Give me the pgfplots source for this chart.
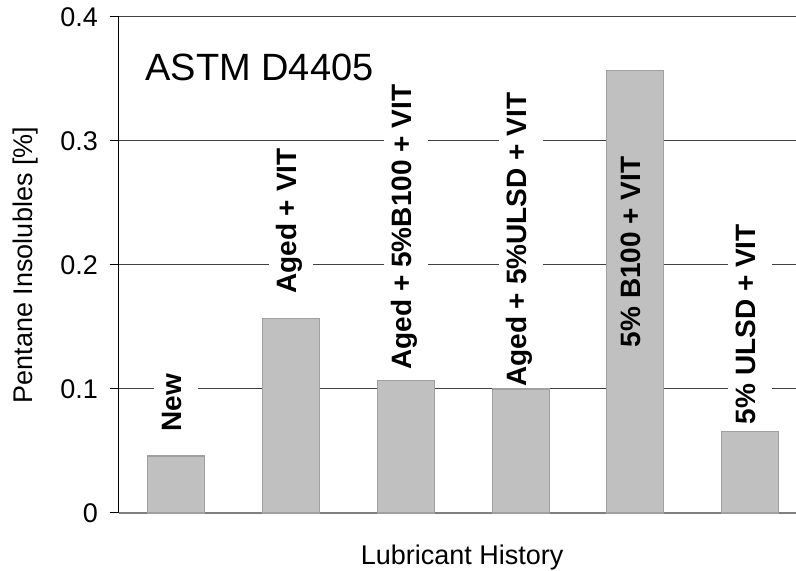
\documentclass[border=0pt]{standalone}
\usepackage{fontspec}
\setmainfont{Liberation Sans}
\usepackage{pgfplots}
\pgfplotsset{compat=1.18}
\definecolor{barfill}{HTML}{C0C0C0}
\definecolor{bardraw}{HTML}{A0A0A0}
\definecolor{gridc}{HTML}{404040}
\begin{document}
\begin{tikzpicture}
\begin{axis}[
  at={(0,0)}, anchor=south west,
  scale only axis,
  width=338.5pt, height=248pt,
  xmin=-0.5, xmax=5.4,
  ymin=0, ymax=0.4,
  axis y line=left, axis x line=bottom,
  y axis line style={black, line width=0.5pt, -},
  x axis line style={gray, line width=1pt, -},
  xtick=\empty,
  ytick={0,0.1,0.2,0.3,0.4},
  yticklabels={0,0.1,0.2,0.3,0.4},
  /pgf/number format/assume math mode=true,
  tick align=outside,
  major tick length=4.5pt,
  ytick style={black, line width=0.5pt},
  ymajorgrids,
  major grid style={gridc, line width=0.5pt},
  tick label style={font=\fontsize{13.5}{15}\selectfont},
  yticklabel style={xshift=-2.5pt},
  label style={font=\fontsize{13.5}{16}\selectfont},
  xlabel={Lubricant History},
  xlabel style={at={(rel axis cs:0.507,0)}, anchor=base, yshift=-26pt},
  ylabel={Pentane Insolubles [\%]},
  ylabel style={at={(rel axis cs:0,0.5)}, anchor=center, yshift=46.5pt},
  clip=false,
]
\addplot[ybar, bar width=28.5pt, fill=barfill, draw=bardraw, line width=0.6pt]
  coordinates {(0,0.046) (1,0.157) (2,0.107) (3,0.100) (4,0.357) (5,0.066)};
\tikzset{bl/.style={rotate=90, anchor=west, inner xsep=0pt, inner ysep=6.3pt,
  text height=0.75em, text depth=0.2em, xshift=-1pt,
  font=\fontsize{14}{16}\selectfont\bfseries}}
\node[bl, fill=white] at (axis cs:0,0.067) {New};
\node[bl, fill=white] at (axis cs:1,0.178) {Aged + VIT};
\node[bl, fill=white] at (axis cs:2,0.117) {Aged + 5\%B100 + VIT};
\node[bl, fill=white] at (axis cs:3,0.103) {Aged + 5\%ULSD + VIT};
\node[bl] at (axis cs:4,0.135) {5\% B100 + VIT};
\node[bl, fill=white] at (axis cs:5,0.073) {5\% ULSD + VIT};
\node[anchor=base west, inner sep=0pt, font=\fontsize{19}{22}\selectfont]
  at (axis cs:-0.273,0.349) {ASTM D4405};
\end{axis}
\pgfresetboundingbox
\path[use as bounding box] (-59.5pt,-29pt) rectangle (338.5pt,256.5pt);
\end{tikzpicture}
\end{document}
